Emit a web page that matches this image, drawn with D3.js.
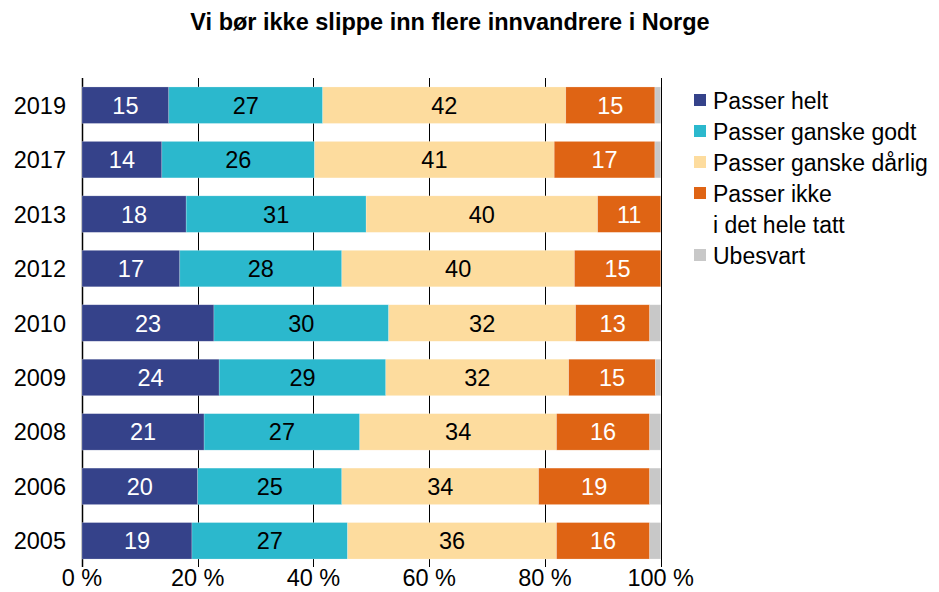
<!DOCTYPE html>
<html>
<head>
<meta charset="utf-8">
<script src="https://cdn.jsdelivr.net/npm/d3@7"></script>
<style>
  body { margin: 0; background: #fff; }
  text { font-family: "Liberation Sans", Arial, sans-serif; }
</style>
</head>
<body>
<div id="chart"></div>
<script>
const title = 'Vi bør ikke slippe inn flere innvandrere i Norge'
const years = ['2019', '2017', '2013', '2012', '2010', '2009', '2008', '2006', '2005']
const series = ['Passer helt', 'Passer ganske godt', 'Passer ganske dårlig', 'Passer ikke\ni det hele tatt', 'Ubesvart']
const helt    = [15.0, 13.8, 18.0, 16.9, 22.8, 23.7, 21.1, 20.0, 19.0]
const godt    = [26.6, 26.4, 31.1, 28.0, 30.2, 28.8, 26.9, 24.9, 26.9]
const darlig  = [42.0, 41.4, 40.0, 40.2, 32.3, 31.6, 34.0, 34.0, 36.1]
const ikke    = [15.4, 17.4, 10.9, 14.9, 12.8, 15.0, 16.1, 19.2, 16.1]
const ubesvart = [1.0, 1.0, 0, 0, 1.9, 0.9, 1.9, 1.9, 1.9]
const ticks = [0, 20, 40, 60, 80, 100]

const colors = ['#35428a', '#2bb8cd', '#fddc9e', '#df6414', '#c8c8c8']
const labelColors = ['#fff', '#000', '#000', '#fff', null]

const width = 939
const height = 592
const fontSize = '23.5px'

const svg = d3.select('#chart')
  .append('svg')
  .attr('width', width)
  .attr('height', height)

svg.append('text')
  .attr('x', 450)
  .attr('y', 30)
  .attr('text-anchor', 'middle')
  .style('font-size', '23.5px')
  .style('font-weight', 'bold')
  .text(title)

let x = d3.scaleLinear().domain([0, 100]).range([82, 660.7])
let y = d3.scaleBand().domain(years).range([69, 577]).paddingInner(0.33).paddingOuter(0.33)

// build rows for the stack
let rows = years.map((yr, i) => ({
  year: yr, 0: helt[i], 1: godt[i], 2: darlig[i], 3: ikke[i], 4: ubesvart[i]
}))
let stacked = d3.stack().keys([0, 1, 2, 3, 4])(rows)

// grid lines
svg.append('g')
  .selectAll('line')
  .data(ticks)
  .enter()
  .append('line')
  .attr('x1', d => Math.round(x(d)) + 0.5)
  .attr('x2', d => Math.round(x(d)) + 0.5)
  .attr('y1', 78)
  .attr('y2', 567)
  .attr('stroke', '#000')
  .attr('stroke-width', d => d === 0 ? 1.5 : 1)

let layers = svg.append('g')
  .selectAll('g')
  .data(stacked)
  .enter()
  .append('g')
  .attr('fill', (d, i) => colors[i])

layers.selectAll('rect')
  .data(d => d)
  .enter()
  .append('rect')
  .attr('x', d => x(d[0]))
  .attr('y', d => y(d.data.year))
  .attr('width', d => x(d[1]) - x(d[0]))
  .attr('height', y.bandwidth())
  .attr('stroke', '#fff')
  .attr('stroke-opacity', 0.35)
  .attr('stroke-width', 0.6)

layers.each(function (layer, k) {
  if (!labelColors[k]) return
  d3.select(this).selectAll('text')
    .data(layer)
    .enter()
    .append('text')
    .attr('x', d => (x(d[0]) + x(d[1])) / 2)
    .attr('y', d => y(d.data.year) + y.bandwidth() / 2 + 8.5)
    .attr('text-anchor', 'middle')
    .attr('fill', labelColors[k])
    .style('font-size', fontSize)
    .text(d => Math.round(d[1] - d[0]))
})

// year labels
svg.append('g')
  .selectAll('text')
  .data(years)
  .enter()
  .append('text')
  .attr('x', 66)
  .attr('y', d => y(d) + y.bandwidth() / 2 + 8.5)
  .attr('text-anchor', 'end')
  .style('font-size', fontSize)
  .text(d => d)

// x tick labels
svg.append('g')
  .selectAll('text')
  .data(ticks)
  .enter()
  .append('text')
  .attr('x', d => x(d))
  .attr('y', 586)
  .attr('text-anchor', 'middle')
  .style('font-size', fontSize)
  .text(d => d + ' %')

// legend
let legendY = [100, 131, 162, 193, 255]
let legend = svg.append('g')
series.forEach((s, i) => {
  legend.append('rect')
    .attr('x', 694)
    .attr('y', legendY[i] - 6)
    .attr('width', 12)
    .attr('height', 12)
    .attr('fill', colors[i])
  let lines = s.split('\n')
  lines.forEach((ln, j) => {
    legend.append('text')
      .attr('x', 713)
      .attr('y', legendY[i] + 8.5 + j * 31)
      .style('font-size', '23px')
      .text(ln)
  })
})
</script>
</body>
</html>
